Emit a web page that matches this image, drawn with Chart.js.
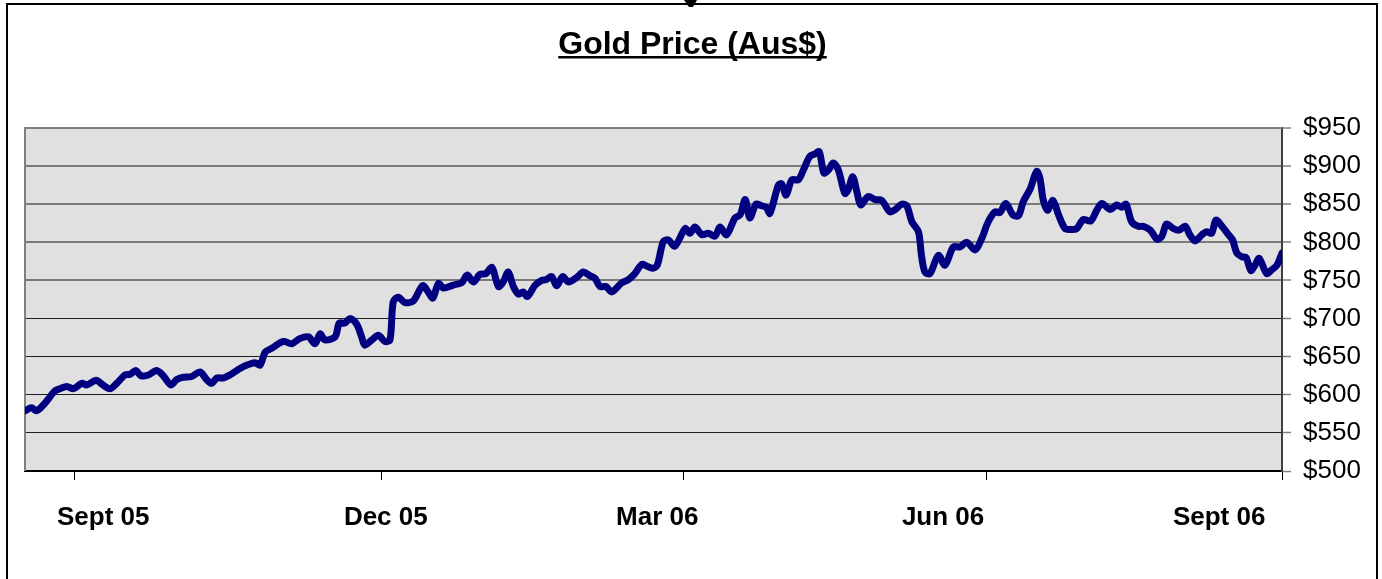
<!DOCTYPE html>
<html><head><meta charset="utf-8">
<script src="https://cdn.jsdelivr.net/npm/chart.js@4.4.1/dist/chart.umd.min.js"></script>
<style>html,body{margin:0;padding:0;background:#fff}canvas{display:block}</style>
</head><body>
<canvas id="c" width="1382" height="579" style="width:1382px;height:579px"></canvas>
<script>
const chartTitle = 'Gold Price (Aus$)';
// trading-day index along the axis
const tradingDay = [0,1.4,2.5,4.3,6.4,7.5,9.0,10.4,12.2,13.3,15.3,16.7,18.3,19.7,21.5,22.6,23.8,24.9,26.5,28.3,29.7,31.3,32.6,34.0,35.8,37.6,39.0,40.1,41.2,42.6,44.0,
45.5,47.3,49.4,50.5,51.6,53.0,55.5,57.3,59.1,60.9,62.3,63.4,64.4,66.6,67.5,68.7,69.8,71.3,72.3,73.0,74.5,75.9,77.3,78.4,79.1,80.2,81.6,83.4,85.4,86.6,87.6,88.8,
89.9,92.0,93.8,95.0,96.3,97.7,99.0,100.3,101.7,102.7,103.8,104.9,106.0,107.0,107.9,109.6,111.0,111.9,113.1,114.2,115.5,116.7,118.5,119.9,121.4,122.4,123.5,124.8,126.0,128.2,129.6,131.0,132.5,133.5,134.8,135.8,
137.1,138.2,139.6,141.8,142.8,143.9,145.4,146.8,148.2,149.3,150.7,152.5,153.6,154.7,155.7,157.0,158.2,159.2,160.0,161.8,162.5,163.5,164.7,166.1,167.2,168.6,169.7,170.6,171.6,172.6,173.6,174.7,176.1,176.8,177.8,178.7,179.5,
181.1,182.6,184.0,185.8,186.9,188.3,189.4,190.5,191.9,192.6,193.3,194.4,196.2,197.6,199.4,200.8,202.3,204.1,205.5,206.9,208.4,209.4,210.7,212.2,213.4,214.4,215.9,217.3,218.0,218.7,219.6,220.8,222.0,223.4,224.5,225.9,
227.3,228.9,230.2,231.3,233.1,234.5,235.6,236.5,237.7,239.1,240.2,241.7,243.2,244.2,245.2,246.7,247.9,249.2,250.2,251.3,252.8,253.8,254.9,255.8,257.1,258.5,259.4,260.3,261.4,262.3,263.3,264.2,265.1,266.7,267.8,268.9,270];
// gold price, Australian dollars per ounce
const priceAUD = [579,583,579,589,605,608,611,608,615,613,619,613,608,615,626,627,632,625,626,632,625,613,620,623,624,630,620,615,622,622,626,
632,638,642,639,656,661,670,667,674,676,667,680,672,676,694,694,700,692,676,665,672,678,670,672,722,728,721,723,743,735,727,746,
740,744,747,757,748,758,759,767,742,748,761,742,732,735,729,744,750,751,755,743,755,748,754,761,756,753,742,742,735,747,751,759,771,769,766,770,
801,803,795,818,812,820,810,812,808,820,810,832,836,856,832,850,848,846,838,875,877,862,882,882,895,913,916,919,891,895,904,895,864,869,886,866,849,
860,856,855,840,843,850,848,827,814,781,761,759,783,770,794,794,800,790,805,827,840,839,851,836,835,853,870,893,884,856,842,855,836,818,817,818,
830,828,842,851,843,849,846,850,827,821,821,816,804,808,824,818,816,821,810,802,810,814,812,829,821,810,803,786,781,780,763,770,779,759,764,770,786];
const quarterTickDays = [10.7, 76.5, 141.5, 206.5, 270];
const quarterLabelDays = [16.8, 77.5, 135.8, 197.2, 256.5];
const quarterLabels = ['Sept 05', 'Dec 05', 'Mar 06', 'Jun 06', 'Sept 06'];
const yMin = 500, yMax = 950, yStep = 50;

const FONT = '"Liberation Sans", Arial, sans-serif';

const decor = {
  id: 'decor',
  beforeDraw(chart) {
    const { ctx, chartArea: a } = chart;
    ctx.save();
    ctx.fillStyle = '#ffffff';
    ctx.fillRect(0, 0, chart.width, chart.height);
    ctx.fillStyle = '#E0E0E0';
    ctx.fillRect(a.left, a.top, a.right - a.left, a.bottom - a.top);
    // outer frame
    ctx.strokeStyle = '#000';
    ctx.lineWidth = 2;
    ctx.strokeRect(7, 4, 1370, 620);
    // small mark at top centre
    ctx.fillStyle = '#000';
    ctx.beginPath();
    ctx.moveTo(684, 0); ctx.lineTo(697, 0); ctx.lineTo(693, 7); ctx.lineTo(689, 7);
    ctx.closePath(); ctx.fill();
    // title
    ctx.font = 'bold 32px ' + FONT;
    ctx.textAlign = 'center';
    ctx.textBaseline = 'alphabetic';
    ctx.fillStyle = '#000';
    const cx = 692.5;
    ctx.fillText(chartTitle, cx, 54);
    const w = ctx.measureText(chartTitle).width;
    ctx.fillRect(cx - w / 2, 56, w, 2.5);
    ctx.restore();
  },
  beforeDatasetsDraw(chart) {
    const { ctx, chartArea: a } = chart;
    ctx.save();
    ctx.strokeStyle = '#808080';
    ctx.lineWidth = 2;
    ctx.beginPath();
    ctx.moveTo(a.left, a.bottom);
    ctx.lineTo(a.left, a.top);
    ctx.lineTo(a.right, a.top);
    ctx.stroke();
    ctx.restore();
  }
};

new Chart(document.getElementById('c'), {
  type: 'line',
  data: {
    datasets: [{
      data: tradingDay.map((d, i) => ({ x: d, y: priceAUD[i] })),
      borderColor: '#000080',
      borderWidth: 7,
      pointRadius: 0,
      tension: 0.3,
      fill: false,
      borderCapStyle: 'round',
      borderJoinStyle: 'round',
      xAxisID: 'x',
      yAxisID: 'y'
    }]
  },
  options: {
    responsive: false,
    animation: false,
    devicePixelRatio: 1,
    layout: { padding: { left: 25, top: 128, right: 0, bottom: 0 } },
    plugins: { legend: { display: false }, title: { display: false }, tooltip: { enabled: false } },
    scales: {
      x: {
        type: 'linear', position: 'bottom', weight: 0,
        min: 0, max: 270,
        afterBuildTicks: s => { s.ticks = quarterTickDays.map(v => ({ value: v })); },
        afterFit: s => { s.height = 9; },
        ticks: { display: false },
        grid: { display: true, drawOnChartArea: false, drawTicks: true, tickLength: 9, color: '#000', lineWidth: 1 },
        border: { display: true, color: '#000', width: 2 }
      },
      xl: {
        type: 'linear', position: 'bottom', weight: 1,
        min: 0, max: 270,
        afterBuildTicks: s => { s.ticks = quarterLabelDays.map(v => ({ value: v })); },
        afterFit: s => { s.height = 99; },
        ticks: {
          callback: (v, i) => quarterLabels[i],
          font: { family: FONT, size: 26, weight: 'bold' },
          color: '#000', padding: 14, maxRotation: 0, autoSkip: false
        },
        grid: { display: false },
        border: { display: false }
      },
      y: {
        position: 'right',
        min: yMin, max: yMax,
        ticks: {
          stepSize: yStep,
          callback: v => '$' + v,
          font: { family: FONT, size: 26 },
          color: '#000', padding: 12
        },
        afterFit: s => { s.width = 100; },
        grid: {
          color: c => (c.tick && c.tick.value >= 750 ? '#7a7a7a' : '#1e1e1e'),
          lineWidth: c => (c.tick && c.tick.value >= 750 ? 2 : 1),
          tickColor: '#808080', tickWidth: 1.5, tickLength: 9, drawTicks: true
        },
        border: { display: true, color: '#404040', width: 2 }
      }
    }
  },
  plugins: [decor]
});
</script>
</body></html>
